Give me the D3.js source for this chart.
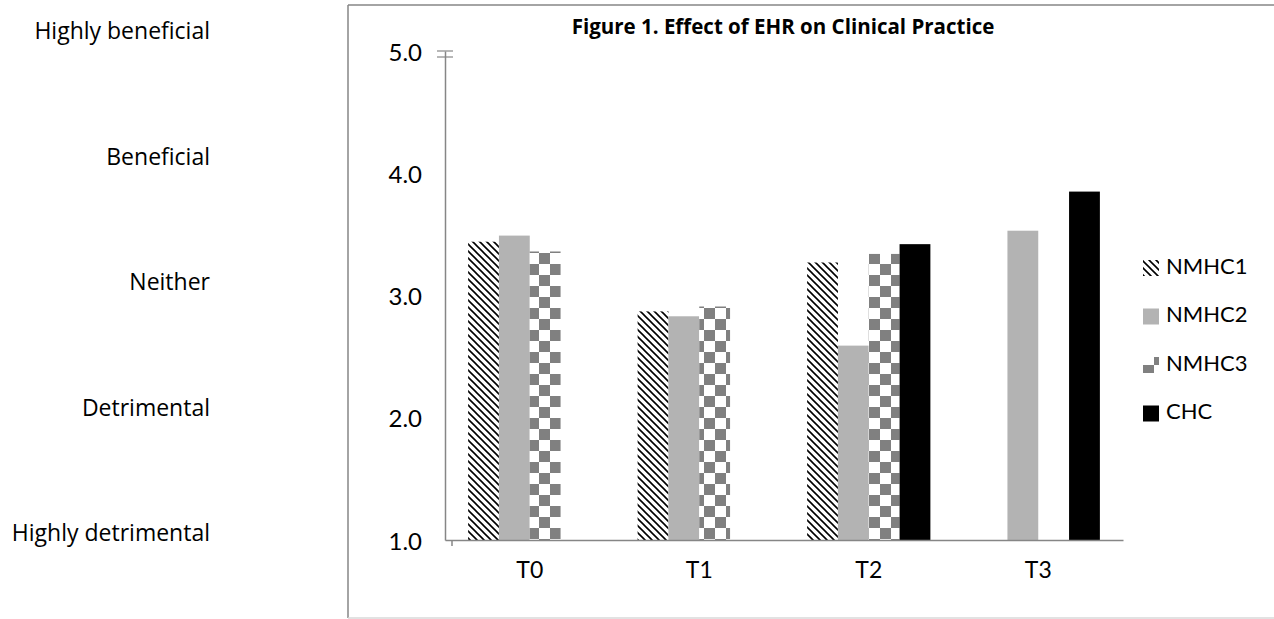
<!DOCTYPE html>
<html>
<head>
<meta charset="utf-8">
<script src="https://cdn.jsdelivr.net/npm/d3@7"></script>
<style>
    body { margin: 0; background: #fff; }
    svg { display: block; font-family: Lato, "Open Sans", sans-serif; }
</style>
</head>
<body>
<svg id="chart"></svg>
<script>
// data
const categories = ["T0", "T1", "T2", "T3"];
const series = ["NMHC1", "NMHC2", "NMHC3", "CHC"];
const nmhc1 = [3.44, 2.87, 3.27, null];
const nmhc2 = [3.49, 2.83, 2.59, 3.53];
const nmhc3 = [3.36, 2.91, 3.34, null];
const chc = [null, null, 3.42, 3.85];
const yTicks = [1, 2, 3, 4, 5];
const ratingLabels = ["Highly detrimental", "Detrimental", "Neither", "Beneficial", "Highly beneficial"];

const values = {NMHC1: nmhc1, NMHC2: nmhc2, NMHC3: nmhc3, CHC: chc};

const width = 1274, height = 619;
const svg = d3.select("#chart").attr("width", width).attr("height", height);

// fill patterns, excel style
const defs = svg.append("defs");
const diag = defs.append("pattern")
    .attr("id", "diag")
    .attr("patternUnits", "userSpaceOnUse")
    .attr("width", 7).attr("height", 7);
diag.append("path")
    .attr("d", "M-1,-1 L8,8 M-1,6 L1,8 M6,-1 L8,1")
    .attr("stroke", "#000").attr("stroke-width", 1.6);

const checker = defs.append("pattern")
    .attr("id", "checker")
    .attr("patternUnits", "userSpaceOnUse")
    .attr("width", 22).attr("height", 22);
checker.append("rect").attr("width", 22).attr("height", 22).attr("fill", "#fff");
checker.append("rect").attr("width", 11).attr("height", 11).attr("fill", "#808080");
checker.append("rect").attr("x", 11).attr("y", 11).attr("width", 11).attr("height", 11).attr("fill", "#808080");

const fills = {NMHC1: "url(#diag)", NMHC2: "#b3b3b3", NMHC3: "url(#checker)", CHC: "#000"};

// chart frame (runs off the right edge)
svg.append("line").attr("x1", 348).attr("x2", width).attr("y1", 5).attr("y2", 5)
    .attr("stroke", "#868686").attr("stroke-width", 1.5);
svg.append("line").attr("x1", 348).attr("x2", 348).attr("y1", 5).attr("y2", 618)
    .attr("stroke", "#868686").attr("stroke-width", 1.5);
svg.append("line").attr("x1", 348).attr("x2", width).attr("y1", 618).attr("y2", 618)
    .attr("stroke", "#d9d9d9").attr("stroke-width", 1.5);

// scales
const yScale = d3.scaleLinear().domain([1, 5]).range([540, 51]);
const xScale = d3.scaleBand().domain(categories).range([445, 1123]);
const xInner = d3.scaleBand().domain(series)
    .range([0, xScale.bandwidth()])
    .paddingInner(0).paddingOuter(0.75);
const ratingScale = d3.scaleLinear().domain([1, 5]).range([535, 33]);

svg.append("text")
    .attr("x", 783).attr("y", 29)
    .attr("text-anchor", "middle").attr("dominant-baseline", "middle")
    .attr("font-family", "'Open Sans', sans-serif")
    .attr("font-size", 20.5).attr("font-weight", "bold")
    .text("Figure 1. Effect of EHR on Clinical Practice");

// rating labels on the far left
svg.selectAll(".rating")
    .data(ratingLabels)
    .join("text")
    .attr("class", "rating")
    .attr("x", 210)
    .attr("y", (d, i) => ratingScale(i + 1))
    .attr("text-anchor", "end").attr("dominant-baseline", "middle")
    .attr("font-family", "'Open Sans', sans-serif")
    .attr("font-size", 23)
    .text(d => d);

// bars
const barData = [];
categories.forEach((c, i) => {
    series.forEach(s => {
        if (values[s][i] != null) barData.push({cat: c, key: s, value: values[s][i]});
    });
});

svg.selectAll(".bar")
    .data(barData)
    .join("rect")
    .attr("class", "bar")
    .attr("x", d => xScale(d.cat) + xInner(d.key))
    .attr("width", xInner.bandwidth())
    .attr("y", d => yScale(d.value))
    .attr("height", d => yScale(1) - yScale(d.value))
    .attr("fill", d => fills[d.key]);

// y axis
const yAxis = d3.axisLeft(yScale)
    .tickValues(yTicks)
    .tickFormat(d3.format(".1f"))
    .tickSize(0).tickPadding(23);
const yAxisG = svg.append("g")
    .attr("transform", `translate(${xScale.range()[0]},0)`)
    .call(yAxis);
yAxisG.select(".domain").attr("stroke", "#868686").attr("stroke-width", 1.5);
yAxisG.selectAll("text").attr("font-size", 24).attr("fill", "#000")
    .attr("font-family", "Lato, sans-serif").attr("dy", "0.38em");

// little break marks at the top of the y axis
[0, 6].forEach(off => {
    svg.append("line")
        .attr("x1", 437).attr("x2", 453)
        .attr("y1", yScale(5) + off).attr("y2", yScale(5) + off)
        .attr("stroke", "#868686").attr("stroke-width", 1.2);
});

// x axis
const xAxis = d3.axisBottom(xScale).tickSize(0).tickPadding(22);
const xAxisG = svg.append("g")
    .attr("transform", `translate(0,${yScale(1)})`)
    .call(xAxis);
xAxisG.select(".domain").attr("stroke", "#868686").attr("stroke-width", 1.5);
xAxisG.selectAll("text").attr("font-size", 23).attr("fill", "#000")
    .attr("font-family", "Lato, sans-serif");
svg.append("line")
    .attr("x1", 452).attr("x2", 452)
    .attr("y1", yScale(1)).attr("y2", yScale(1) + 6)
    .attr("stroke", "#868686").attr("stroke-width", 1.5);

// legend
const legend = svg.append("g").attr("transform", "translate(1143,268)");
const legendRow = legend.selectAll("g")
    .data(series)
    .join("g")
    .attr("transform", (d, i) => `translate(0,${i * 48.5})`);
legendRow.append("rect")
    .attr("x", 0).attr("y", -8)
    .attr("width", 16).attr("height", 16)
    .attr("fill", d => fills[d]);
legendRow.append("text")
    .attr("x", 23).attr("y", 0)
    .attr("dominant-baseline", "middle")
    .attr("font-size", 22)
    .text(d => d);
</script>
</body>
</html>
